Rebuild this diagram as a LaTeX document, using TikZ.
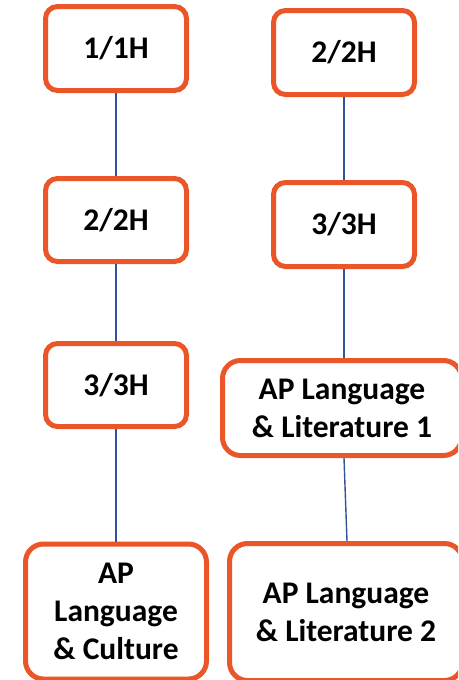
\documentclass[tikz,border=0pt]{standalone}
\usepackage{fontspec}
\setmainfont{Carlito}
\usetikzlibrary{calc}
\definecolor{boxorange}{RGB}{234,86,40}
\definecolor{linkblue}{RGB}{47,85,151}
\tikzset{
  course/.style={draw=boxorange, line width=5pt, rounded corners=12pt, fill=white,
    inner sep=0pt, align=center, font=\fontsize{31.5}{38}\selectfont\bfseries},
  bigcourse/.style={course, rounded corners=18pt},
  link/.style={draw=linkblue, line width=1.4pt}
}
\begin{document}
\begin{tikzpicture}[x=1pt,y=-1pt]
\useasboundingbox (0,0) rectangle (458,680);
\clip (0,0) rectangle (458,680);
% left column
\node[course, minimum width=141pt, minimum height=84pt] (l1) at (116,48.5) {1/1H};
\node[course, minimum width=141pt, minimum height=83pt] (l2) at (116,220) {2/2H};
\node[course, minimum width=141pt, minimum height=83pt] (l3) at (116,385) {3/3H};
\node[bigcourse, minimum width=181pt, minimum height=135pt] (l4) at (116,611.5) {AP\\Language\\\& Culture};
% right column
\node[course, minimum width=141pt, minimum height=84pt] (r1) at (344,52.5) {2/2H};
\node[course, minimum width=141pt, minimum height=84pt] (r2) at (344,224.5) {3/3H};
\node[bigcourse, minimum width=239pt, minimum height=95pt] (r3) at (342,408) {AP Language\\\& Literature 1};
\node[bigcourse, minimum width=233pt, minimum height=137pt] (r4) at (346,612) {AP Language\\\& Literature 2};
% connectors
\draw[link] (l1.south) -- (l2.north);
\draw[link] (l2.south) -- (l3.north);
\draw[link] (l3.south) -- (l4.north);
\draw[link] (r1.south) -- (r2.north);
\draw[link] (r2.south) -- ([xshift=2pt]r3.north);
\draw[link] ([xshift=2pt]r3.south) -- ([xshift=1pt]r4.north);
\end{tikzpicture}
\end{document}
